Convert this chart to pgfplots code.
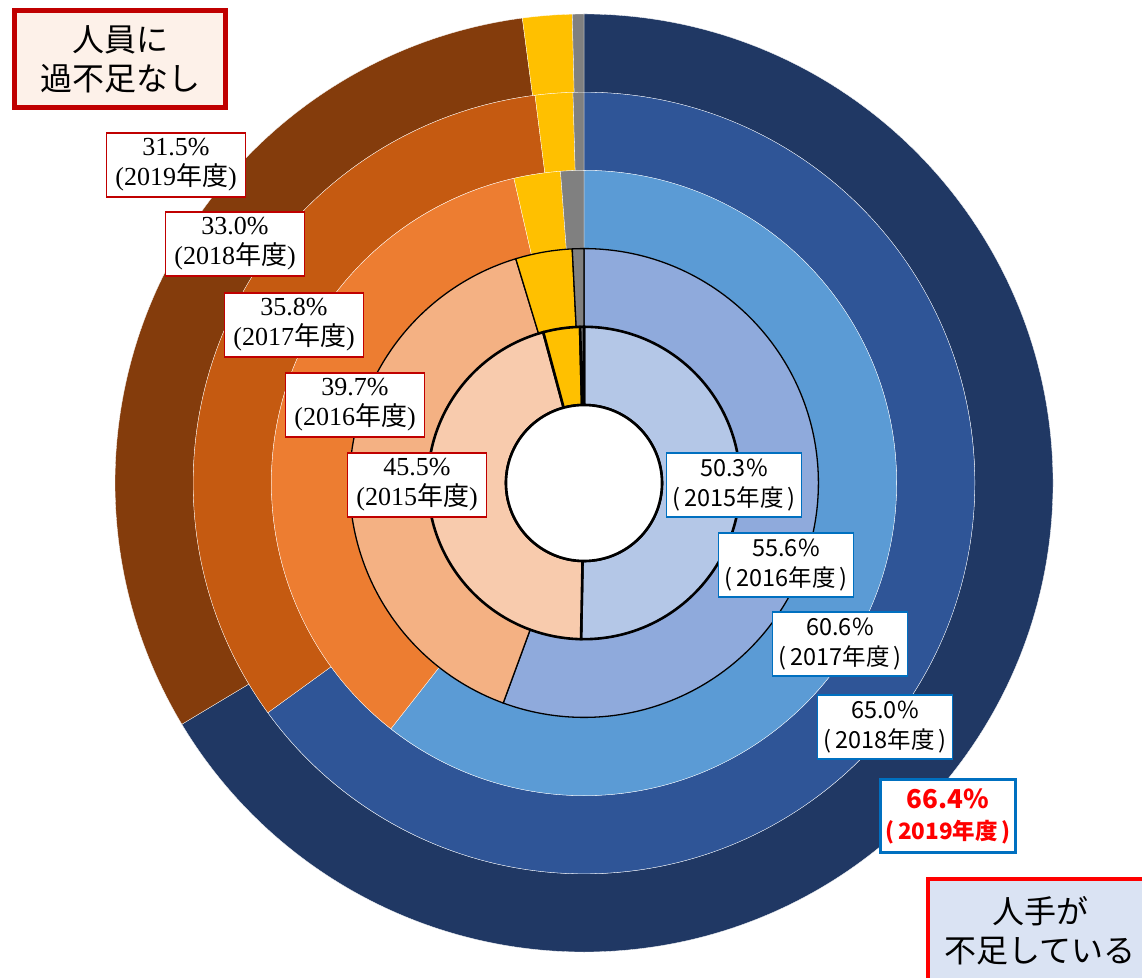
\documentclass[border=0pt]{standalone}
\usepackage{pgfplots}
\pgfplotsset{compat=1.18}
\usepackage{pgfplotstable}
\usepackage{fontspec}
\setmainfont{Liberation Serif}
\newfontfamily\cjk{Noto Sans CJK JP}
\definecolor{lack0}{HTML}{B4C7E7}
\definecolor{lack1}{HTML}{8FAADC}
\definecolor{lack2}{HTML}{5B9BD5}
\definecolor{lack3}{HTML}{2F5597}
\definecolor{lack4}{HTML}{203864}
\definecolor{ok0}{HTML}{F8CBAD}
\definecolor{ok1}{HTML}{F4B183}
\definecolor{ok2}{HTML}{ED7D31}
\definecolor{ok3}{HTML}{C55A11}
\definecolor{ok4}{HTML}{843C0C}
\definecolor{exc}{HTML}{FFC000}
\definecolor{unk}{HTML}{808080}
\definecolor{darkred}{HTML}{C00000}
\definecolor{bdblue}{HTML}{0070C0}
\definecolor{peach}{HTML}{FDF1E9}
\definecolor{paleblue}{HTML}{DAE3F3}

% rows: 2015..2019 (inner to outer)
\pgfplotstableread{
year lack ok excess unknown
2015 50.3 45.5 3.8 0.4
2016 55.6 39.7 3.9 0.8
2017 60.6 35.8 2.4 1.2
2018 65.0 33.0 1.55 0.45
2019 66.4 31.5 1.7 0.4
}\datatable

\newcommand\seg[5]{%
  \pgfmathsetmacro\tA{90-3.6*#3}%
  \pgfmathsetmacro\tB{90-3.6*#4}%
  \edef\temp{\noexpand\filldraw[#5] ([shift={(\tA:#2pt)}]axis cs:584,494) arc[start angle=\tA,end angle=\tB,radius=#2pt] -- ([shift={(\tB:#1pt)}]axis cs:584,494) arc[start angle=\tB,end angle=\tA,radius=#1pt] -- cycle;}%
  \temp}

\newcommand\drawring[1]{%
  \pgfplotstablegetelem{#1}{lack}\of\datatable \let\vA\pgfplotsretval
  \pgfplotstablegetelem{#1}{ok}\of\datatable \let\vB\pgfplotsretval
  \pgfplotstablegetelem{#1}{excess}\of\datatable \let\vC\pgfplotsretval
  \pgfmathsetmacro\rin{78+78.2*#1}%
  \pgfmathsetmacro\rout{78+78.2*(#1+1)}%
  \pgfmathsetmacro\cA{\vA}%
  \pgfmathsetmacro\cB{\vA+\vB}%
  \pgfmathsetmacro\cC{\vA+\vB+\vC}%
  \ifcase#1\relax \def\lst{draw=black,line width=2.6pt}\or \def\lst{draw=black,line width=1.3pt}\else \def\lst{draw=white,line width=0.3pt}\fi
  \seg{\rin}{\rout}{0}{\cA}{fill=lack#1,\lst}%
  \seg{\rin}{\rout}{\cA}{\cB}{fill=ok#1,\lst}%
  \seg{\rin}{\rout}{\cB}{\cC}{fill=exc,\lst}%
  \seg{\rin}{\rout}{\cC}{100}{fill=unk,\lst}%
}

\begin{document}
\begin{tikzpicture}[
  lbox/.style={draw=darkred, line width=1.2pt, fill=white, minimum width=139pt, minimum height=64pt, inner sep=1pt, align=center, font=\fontsize{26}{30}\selectfont},
  rbox/.style={draw=bdblue, line width=1.2pt, fill=white, minimum width=135pt, minimum height=64pt, inner sep=1pt, align=center, font=\cjk\fontsize{23.5}{30}\selectfont}]
\begin{axis}[name=ax, x=1pt, y=1pt, xmin=0, xmax=1142, ymin=0, ymax=977, hide axis]
\pgfplotsinvokeforeach{4,3,2,1,0}{\drawring{#1}}
\filldraw[fill=white,draw=black,line width=2.6pt] (axis cs:584,494) circle[radius=78pt];
% left labels
\node[lbox] at (axis cs:176,812) {31.5\%\\(2019{\cjk 年度})};
\node[lbox] at (axis cs:235,733) {33.0\%\\(2018{\cjk 年度})};
\node[lbox] at (axis cs:294,652) {35.8\%\\(2017{\cjk 年度})};
\node[lbox] at (axis cs:355,572) {39.7\%\\(2016{\cjk 年度})};
\node[lbox] at (axis cs:417,492) {45.5\%\\(2015{\cjk 年度})};
% right labels
\node[rbox] at (axis cs:734,492) {50.3\%\\(\,2015年度\,)};
\node[rbox] at (axis cs:786,412) {55.6\%\\(\,2016年度\,)};
\node[rbox] at (axis cs:840,333) {60.6\%\\(\,2017年度\,)};
\node[rbox] at (axis cs:885,250) {65.0\%\\(\,2018年度\,)};
\node[rbox, draw=bdblue, line width=3pt, minimum width=135pt, minimum height=72pt, text=red, font=\cjk\bfseries\fontsize{22.5}{31}\selectfont] at (axis cs:948,161) {{\fontsize{26}{31}\selectfont 66.4\%}\\(\,2019年度\,)};
% category boxes
\node[draw=darkred, line width=5pt, fill=peach, minimum width=211pt, minimum height=97pt, align=center, font=\cjk\fontsize{32}{39}\selectfont] at (axis cs:120,918) {人員に\\過不足なし};
\filldraw[draw=red, line width=4pt, fill=paleblue] (axis cs:928,98) rectangle (axis cs:1160,-20);
\node[align=center, font=\cjk\fontsize{32}{39}\selectfont] at (axis cs:1040,46) {人手が\\不足している};
\end{axis}
\pgfresetboundingbox
\useasboundingbox (ax.south west) rectangle (ax.north east);
\end{tikzpicture}
\end{document}
